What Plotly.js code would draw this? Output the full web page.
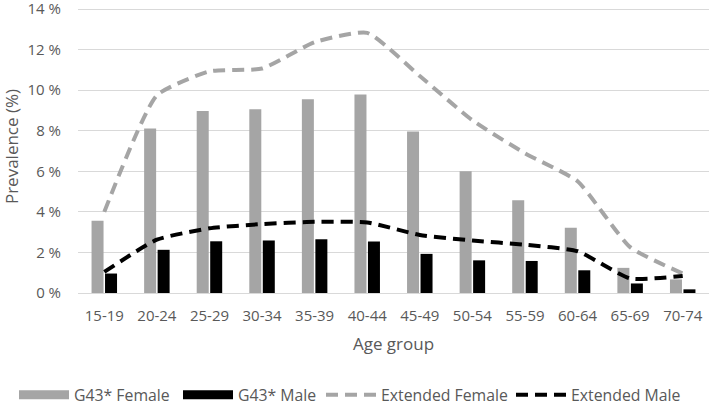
<!DOCTYPE html>
<html>
<head>
<meta charset="utf-8">
<script src="https://cdn.plot.ly/plotly-3.0.1.min.js"></script>
<style>html,body{margin:0;padding:0;background:#fff;}#chart{width:709px;height:406px;}</style>
</head>
<body>
<div id="chart"></div>
<script>
const ageGroups = ["15-19","20-24","25-29","30-34","35-39","40-44","45-49","50-54","55-59","60-64","65-69","70-74"];
const g43Female = [3.56, 8.11, 8.98, 9.06, 9.55, 9.79, 7.97, 6.0, 4.57, 3.22, 1.24, 0.67];
const g43Male = [0.96, 2.13, 2.55, 2.59, 2.65, 2.54, 1.93, 1.61, 1.58, 1.12, 0.47, 0.18];
const extendedFemale = [4.0, 9.75, 10.93, 11.07, 12.37, 12.83, 10.7, 8.52, 6.89, 5.51, 2.26, 0.96];
const extendedMale = [1.04, 2.63, 3.19, 3.4, 3.51, 3.48, 2.86, 2.59, 2.38, 2.06, 0.72, 0.84];
const yTicks = [0, 2, 4, 6, 8, 10, 12, 14];

const FAM = "Open Sans, Noto Sans, sans-serif";
const font = {family: FAM, size: 15, color: "#595959"};
const legFont = {family: FAM, size: 15.8, color: "#595959"};
const GRAY = "#A5A5A5";

const traces = [
  {type: "bar", name: "G43* Female", x: ageGroups, y: g43Female, marker: {color: GRAY}, showlegend: false},
  {type: "bar", name: "G43* Male", x: ageGroups, y: g43Male, marker: {color: "#000000"}, showlegend: false},
  {type: "scatter", mode: "lines", name: "Extended Female", x: ageGroups, y: extendedFemale,
   line: {color: GRAY, width: 4, dash: "12px,7px", shape: "spline", smoothing: 0.5}, legend: "legend3"},
  {type: "scatter", mode: "lines", name: "Extended Male", x: ageGroups, y: extendedMale,
   line: {color: "#000000", width: 4, dash: "12px,7px", shape: "spline", smoothing: 0.5}, legend: "legend4"},
  // legend-only entries giving the wide bar swatches
  {type: "scatter", mode: "lines", name: "G43* Female", x: [null], y: [null],
   line: {color: GRAY, width: 9}, legend: "legend", hoverinfo: "skip"},
  {type: "scatter", mode: "lines", name: "G43* Male", x: [null], y: [null],
   line: {color: "#000000", width: 9}, legend: "legend2", hoverinfo: "skip"}
];

function leg(px) {
  return {orientation: "h", xref: "container", yref: "container", x: px / 709, xanchor: "left",
          y: 11 / 406, yanchor: "middle", font: legFont, itemwidth: 50, bgcolor: "rgba(0,0,0,0)"};
}

const layout = {
  width: 709, height: 406,
  margin: {l: 78, r: 0, t: 0, b: 113, autoexpand: false},
  paper_bgcolor: "#fff", plot_bgcolor: "#fff",
  font: font,
  barmode: "group", bargap: 0.487, bargroupgap: 0.11,
  showlegend: true,
  legend: leg(14), legend2: leg(178), legend3: leg(321), legend4: leg(511),
  xaxis: {
    type: "category", showgrid: false, showline: true, linecolor: "#D9D9D9", linewidth: 1,
    ticks: "", tickfont: font, ticklabelstandoff: 9, automargin: false,
    title: {text: "Age group", font: {family: FAM, size: 17, color: "#595959"}, standoff: 14}
  },
  yaxis: {
    range: [0, 14.45], tickvals: yTicks, ticktext: yTicks.map(v => v + " %"),
    showgrid: true, gridcolor: "#D9D9D9", gridwidth: 1, zeroline: false,
    showline: false, ticks: "", tickfont: font, ticklabelstandoff: 16, automargin: false,
    ticklabeloverflow: "allow",
    title: {text: "Prevalence (%)", font: {family: FAM, size: 17, color: "#595959"}, standoff: 4}
  }
};

Plotly.newPlot("chart", traces, layout, {displayModeBar: false, staticPlot: true});
</script>
</body>
</html>
